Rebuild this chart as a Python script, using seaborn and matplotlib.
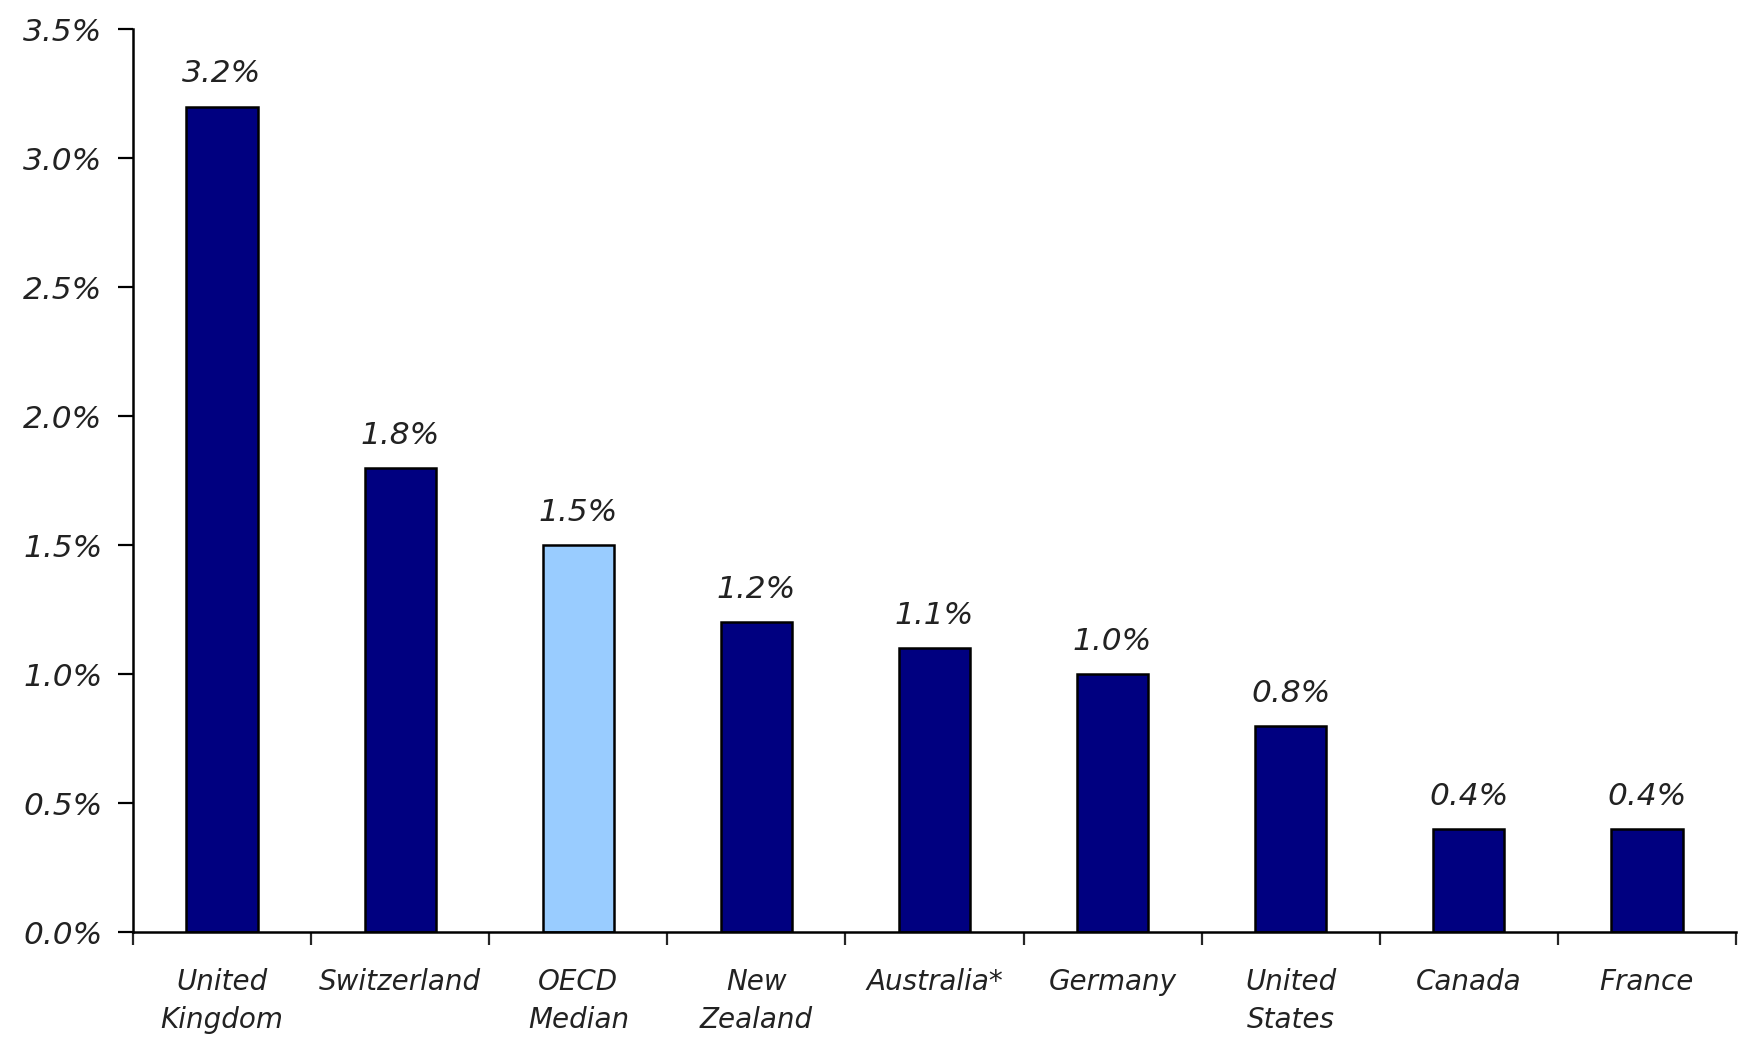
import pandas as pd
import seaborn as sns
import matplotlib.pyplot as plt
from matplotlib.ticker import FuncFormatter

# Chart data
countries = ["United\nKingdom", "Switzerland", "OECD\nMedian", "New\nZealand",
             "Australia*", "Germany", "United\nStates", "Canada", "France"]
values = [3.2, 1.8, 1.5, 1.2, 1.1, 1.0, 0.8, 0.4, 0.4]
bar_colors = ["#000080", "#000080", "#99CCFF", "#000080", "#000080",
              "#000080", "#000080", "#000080", "#000080"]
y_ticks = [0.0, 0.5, 1.0, 1.5, 2.0, 2.5, 3.0, 3.5]

df = pd.DataFrame({"country": countries, "value": values})

sns.set_style("ticks")
plt.rcParams['font.family'] = ['DejaVu Sans']

fig = plt.figure(figsize=(17.44, 10.41), dpi=100)
ax = fig.add_axes([0.0763, 0.1047, 0.9191, 0.8673])

sns.barplot(data=df, x="country", y="value", hue="country",
            palette=dict(zip(countries, bar_colors)), legend=False,
            saturation=1, width=0.4, edgecolor="black", linewidth=1.8, ax=ax)

# value labels above bars
for i, v in enumerate(values):
    ax.text(i, v + 0.07, f"{v:.1f}%", ha="center", va="bottom",
            fontsize=22.5, style="italic", color="#222222")

ax.set_ylim(0, 3.5)
ax.set_xlim(-0.5, len(countries) - 0.5)
ax.set_yticks(y_ticks)
ax.yaxis.set_major_formatter(FuncFormatter(lambda y, _: f"{y:.1f}%"))
ax.tick_params(axis="y", direction="out", length=11, width=1.6,
               labelsize=22.5, pad=11, colors="black", labelcolor="#222222")
for lbl in ax.get_yticklabels():
    lbl.set_style("italic")

# category labels centred, tick marks between categories
ax.set_xticks(range(len(countries)))
ax.set_xticklabels(countries, fontsize=20, style="italic", color="#222222",
                   linespacing=1.45)
ax.tick_params(axis="x", which="major", length=0, pad=26)
ax.set_xticks([i - 0.5 for i in range(len(countries) + 1)], minor=True)
ax.tick_params(axis="x", which="minor", direction="out", length=9, width=1.6)

ax.set_xlabel("")
ax.set_ylabel("")
sns.despine(ax=ax)
for s in ["left", "bottom"]:
    ax.spines[s].set_linewidth(1.8)
    ax.spines[s].set_color("black")

fig.savefig("out.png", dpi=100, facecolor="white")
